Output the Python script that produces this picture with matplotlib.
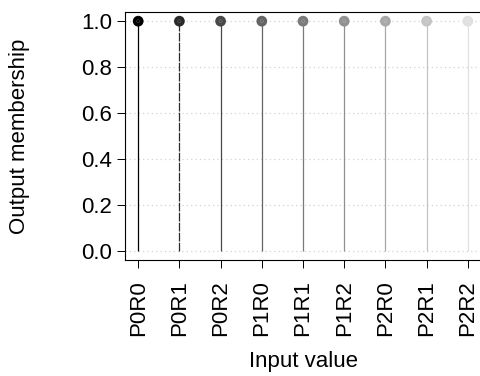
import numpy as np
import matplotlib.pyplot as plt

# 9 input combinations, each gets full membership
categories = ['P0R0', 'P0R1', 'P0R2', 'P1R0', 'P1R1', 'P1R2', 'P2R0', 'P2R1', 'P2R2']
membership = [1.0, 1.0, 1.0, 1.0, 1.0, 1.0, 1.0, 1.0, 1.0]
grays = ['#000000', '#2a2a2a', '#484848', '#646464', '#7a7a7a',
         '#909090', '#a8a8a8', '#c4c4c4', '#e0e0e0']

plt.rcParams['font.family'] = ['Liberation Sans', 'DejaVu Sans']
plt.rcParams['font.size'] = 16

fig = plt.figure(figsize=(4.8, 3.76), dpi=100)
ax = fig.add_axes([125 / 480, 116 / 376, 356 / 480, 248 / 376])

x = np.arange(1, len(categories) + 1)

# dotted grid like R's grid()
for yv in np.arange(0, 1.01, 0.2):
    ax.axhline(yv, color='lightgray', lw=0.9, ls=(0, (1, 2.5)), zorder=0)

for i, (xi, yi, c) in enumerate(zip(x, membership, grays)):
    ls = (0, (7, 1)) if i == 1 else '-'
    ax.vlines(xi, 0, yi, color=c, lw=0.9, ls=ls, zorder=2)
ax.scatter(x, membership, s=60, c=grays, edgecolors='none', zorder=3)
ax.scatter(x, membership, s=5, facecolors='none', edgecolors='white', linewidths=0.3,
           alpha=0.35, zorder=4)

ax.set_xlim(0.68, 9.32)
ax.set_ylim(-0.04, 1.04)
ax.set_xticks(x)
ax.set_xticklabels(categories, rotation=90)
ax.set_yticks(np.arange(0, 1.01, 0.2))
ax.set_yticklabels([f'{v:.1f}' for v in np.arange(0, 1.01, 0.2)])
ax.tick_params(direction='out', length=5.5, width=0.7)
ax.tick_params(axis='y', pad=4)
ax.tick_params(axis='x', pad=9)
for s in ax.spines.values():
    s.set_linewidth(0.8)

ax.set_xlabel('Input value', va='center')
ax.xaxis.set_label_coords(0.5, -0.41)
ax.set_ylabel('Output membership', va='center')
ax.yaxis.set_label_coords(-0.295, 0.5)

fig.savefig('out.png', dpi=100)
